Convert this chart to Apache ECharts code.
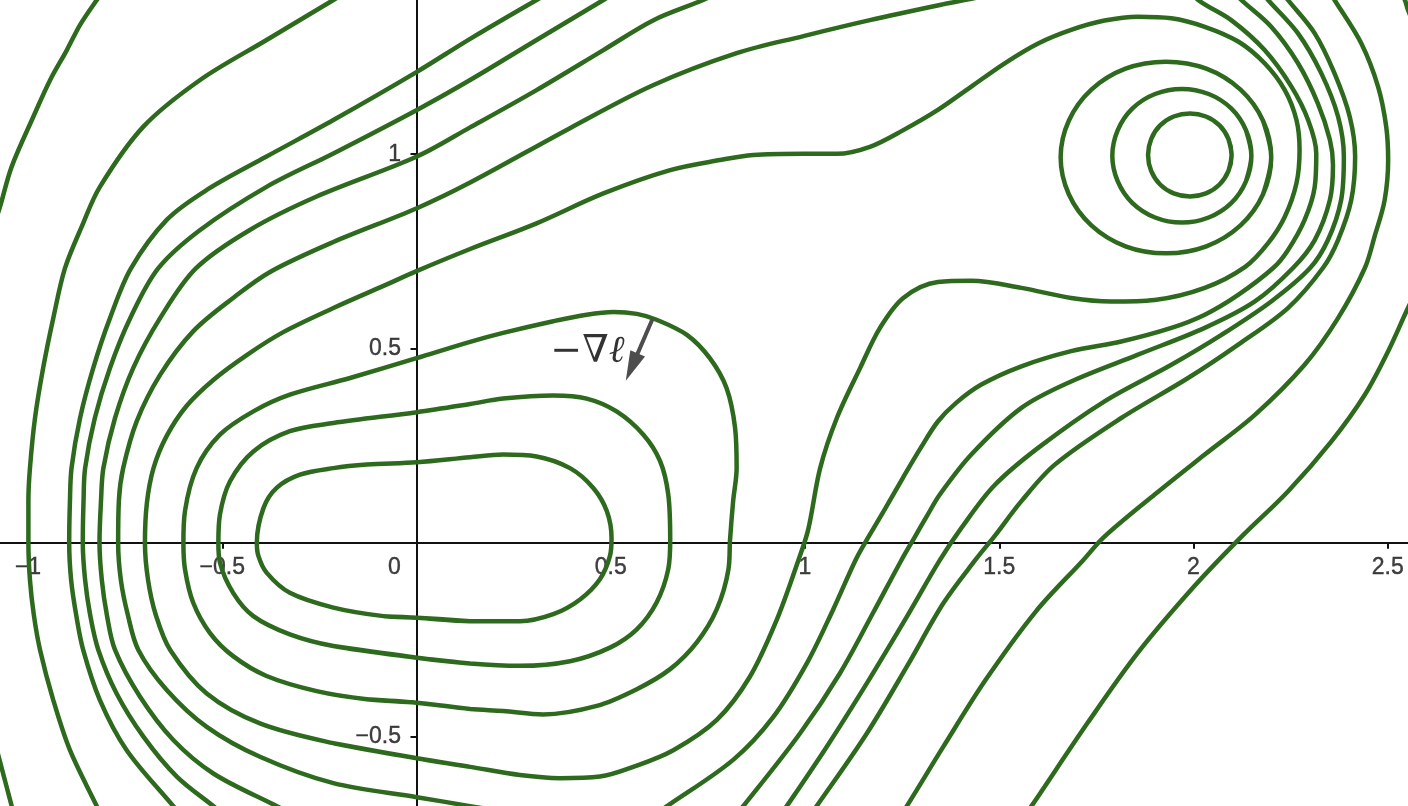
<!DOCTYPE html>
<html>
<head>
<meta charset="utf-8">
<title>Level curves</title>
<script src="https://cdn.jsdelivr.net/npm/echarts@6/dist/echarts.min.js"></script>
<style>
html, body { margin: 0; padding: 0; background: #fff; }
#chart { width: 1408px; height: 806px; }
</style>
</head>
<body>
<div id="chart"></div>
<script>
// tick labels
var xTicks = [-1, -0.5, 0, 0.5, 1, 1.5, 2, 2.5];
var yTicks = [-0.5, 0.5, 1];

// closed curves round the left minimum, inner to outer
var loop1 = [[0.001,-0.193],[0.138,-0.202],[0.266,-0.202],[0.352,-0.184],[0.421,-0.146],[0.472,-0.094],[0.498,-0.034],[0.502,0.012],[0.490,0.081],[0.455,0.141],[0.395,0.192],[0.309,0.222],[0.223,0.227],[0.138,0.220],[0.001,0.207],[-0.128,0.201],[-0.214,0.192],[-0.300,0.175],[-0.360,0.141],[-0.394,0.089],[-0.411,0.0],[-0.407,-0.034],[-0.386,-0.077],[-0.326,-0.129],[-0.214,-0.167],[-0.085,-0.189]];
var loop2 = [[0.001,-0.296],[0.138,-0.311],[0.266,-0.317],[0.395,-0.305],[0.498,-0.270],[0.567,-0.223],[0.618,-0.154],[0.648,-0.068],[0.653,0.007],[0.648,0.124],[0.627,0.210],[0.584,0.278],[0.515,0.338],[0.438,0.371],[0.352,0.379],[0.223,0.371],[0.138,0.357],[0.001,0.336],[-0.214,0.308],[-0.326,0.287],[-0.420,0.235],[-0.480,0.158],[-0.506,0.072],[-0.510,0.0],[-0.506,-0.051],[-0.472,-0.129],[-0.420,-0.189],[-0.326,-0.236],[-0.214,-0.266]];
var loop3 = [[0.0,-0.412],[0.138,-0.428],[0.223,-0.433],[0.326,-0.442],[0.464,-0.420],[0.567,-0.377],[0.652,-0.326],[0.721,-0.257],[0.773,-0.171],[0.803,-0.068],[0.807,0.007],[0.815,0.107],[0.824,0.192],[0.820,0.295],[0.798,0.398],[0.755,0.475],[0.696,0.535],[0.618,0.574],[0.567,0.589],[0.507,0.594],[0.438,0.587],[0.352,0.570],[0.223,0.540],[0.138,0.517],[0.0,0.475],[-0.171,0.424],[-0.326,0.381],[-0.420,0.338],[-0.506,0.278],[-0.566,0.192],[-0.596,0.081],[-0.600,0.0],[-0.596,-0.068],[-0.575,-0.154],[-0.532,-0.232],[-0.472,-0.292],[-0.386,-0.343],[-0.257,-0.382],[-0.128,-0.403]];

// closed curves round the right minimum
var ring1 = [[2.098,0.998],[2.090,1.039],[2.067,1.074],[2.032,1.097],[1.991,1.105],[1.949,1.097],[1.914,1.074],[1.891,1.039],[1.883,0.998],[1.891,0.957],[1.914,0.922],[1.949,0.899],[1.991,0.891],[2.032,0.899],[2.067,0.922],[2.090,0.957]];
var ring2 = [[2.149,0.996],[2.135,1.062],[2.097,1.118],[2.039,1.155],[1.970,1.168],[1.901,1.155],[1.843,1.118],[1.805,1.062],[1.791,0.996],[1.805,0.930],[1.843,0.874],[1.901,0.837],[1.970,0.824],[2.039,0.837],[2.097,0.874],[2.135,0.930]];
var ring3 = [[2.200,0.992],[2.179,1.086],[2.121,1.166],[2.033,1.220],[1.929,1.238],[1.825,1.220],[1.737,1.166],[1.679,1.086],[1.658,0.992],[1.679,0.897],[1.737,0.817],[1.825,0.763],[1.929,0.745],[2.033,0.763],[2.121,0.817],[2.179,0.897]];

// the level through the saddle, round both minima
var saddle = [[0.001,-0.555],[-0.214,-0.516],[-0.403,-0.465],[-0.540,-0.388],[-0.634,-0.276],[-0.671,-0.186],[-0.691,-0.096],[-0.699,0.0],[-0.694,0.102],[-0.677,0.192],[-0.643,0.275],[-0.592,0.352],[-0.523,0.419],[-0.437,0.483],[-0.343,0.542],[-0.214,0.604],[-0.085,0.661],[0.0,0.699],[0.138,0.756],[0.309,0.822],[0.481,0.899],[0.653,0.959],[0.781,0.985],[0.867,0.998],[0.996,1.001],[1.082,1.001],[1.167,1.019],[1.253,1.062],[1.342,1.114],[1.428,1.174],[1.514,1.234],[1.600,1.285],[1.685,1.320],[1.771,1.344],[1.857,1.354],[1.943,1.350],[2.029,1.328],[2.115,1.290],[2.183,1.234],[2.235,1.165],[2.265,1.088],[2.273,1.011],[2.265,0.925],[2.235,0.839],[2.192,0.771],[2.133,0.710],[2.029,0.656],[1.900,0.625],[1.788,0.621],[1.685,0.630],[1.557,0.656],[1.428,0.674],[1.342,0.671],[1.253,0.630],[1.193,0.553],[1.142,0.450],[1.082,0.321],[1.039,0.192],[1.008,0.033],[0.983,-0.045],[0.927,-0.199],[0.858,-0.345],[0.773,-0.456],[0.661,-0.534],[0.558,-0.577],[0.472,-0.602],[0.369,-0.606],[0.266,-0.598],[0.138,-0.577]];

// outer levels, each cut by the frame into pieces
var level5 = [
  [[1.991,1.428],[2.012,1.397],[2.097,1.345],[2.183,1.268],[2.252,1.174],[2.295,1.088],[2.316,1.002],[2.312,0.916],[2.286,0.831],[2.243,0.753],[2.205,0.707],[2.115,0.638],[2.029,0.587],[1.943,0.553],[1.814,0.518],[1.685,0.493],[1.557,0.454],[1.454,0.407],[1.389,0.360],[1.342,0.312],[1.299,0.246],[1.252,0.167],[1.206,0.087],[1.157,0.004],[1.129,-0.047],[1.072,-0.173],[1.005,-0.310],[0.918,-0.449],[0.815,-0.559],[0.645,-0.678],[0.611,-0.701]],
  [[0.215,-0.691],[0.138,-0.678],[0.001,-0.655],[-0.214,-0.619],[-0.403,-0.551],[-0.540,-0.474],[-0.643,-0.379],[-0.716,-0.276],[-0.743,-0.186],[-0.761,-0.096],[-0.768,0.0],[-0.766,0.110],[-0.755,0.192],[-0.720,0.313],[-0.660,0.432],[-0.575,0.544],[-0.472,0.630],[-0.377,0.697],[-0.214,0.774],[0.001,0.861],[0.138,0.927],[0.395,1.067],[0.610,1.178],[0.824,1.260],[0.996,1.304],[1.167,1.345],[1.347,1.384],[1.437,1.402],[1.476,1.412]]
];
var level6 = [
  [[2.099,1.423],[2.123,1.397],[2.200,1.328],[2.269,1.234],[2.320,1.131],[2.351,1.037],[2.359,0.972],[2.351,0.882],[2.312,0.779],[2.256,0.707],[2.158,0.621],[2.029,0.553],[1.857,0.484],[1.685,0.415],[1.557,0.347],[1.428,0.227],[1.347,0.124],[1.314,0.069],[1.281,0.012],[1.247,-0.047],[1.175,-0.181],[1.090,-0.336],[0.987,-0.491],[0.841,-0.678],[0.820,-0.701]],
  [[-0.315,-0.701],[-0.360,-0.678],[-0.523,-0.594],[-0.626,-0.508],[-0.712,-0.396],[-0.776,-0.276],[-0.797,-0.186],[-0.810,-0.096],[-0.816,0.0],[-0.812,0.110],[-0.806,0.192],[-0.776,0.321],[-0.729,0.450],[-0.660,0.578],[-0.568,0.706],[-0.429,0.805],[-0.257,0.891],[0.001,0.994],[0.138,1.069],[0.309,1.165],[0.481,1.268],[0.610,1.345],[0.738,1.397],[0.781,1.418]]
];
var level7 = [
  [[2.171,1.423],[2.192,1.397],[2.269,1.311],[2.329,1.208],[2.372,1.097],[2.387,0.994],[2.380,0.882],[2.346,0.779],[2.300,0.707],[2.200,0.621],[2.072,0.535],[1.943,0.458],[1.771,0.364],[1.600,0.244],[1.486,0.146],[1.404,0.040],[1.347,-0.045],[1.263,-0.189],[1.159,-0.362],[1.056,-0.525],[0.953,-0.678],[0.936,-0.701]],
  [[-0.495,-0.701],[-0.523,-0.678],[-0.617,-0.602],[-0.703,-0.499],[-0.772,-0.388],[-0.819,-0.276],[-0.840,-0.186],[-0.853,-0.096],[-0.859,0.0],[-0.857,0.110],[-0.853,0.192],[-0.828,0.321],[-0.789,0.450],[-0.737,0.578],[-0.665,0.706],[-0.557,0.805],[-0.386,0.916],[-0.214,1.002],[0.001,1.114],[0.138,1.191],[0.309,1.294],[0.481,1.397],[0.524,1.423]]
];
var level8 = [
  [[2.223,1.423],[2.243,1.397],[2.312,1.311],[2.363,1.208],[2.402,1.097],[2.416,0.994],[2.406,0.882],[2.372,0.779],[2.333,0.707],[2.243,0.604],[2.115,0.510],[1.986,0.424],[1.814,0.321],[1.643,0.201],[1.557,0.107],[1.488,0.017],[1.438,-0.045],[1.356,-0.156],[1.262,-0.319],[1.159,-0.491],[1.030,-0.678],[1.013,-0.701]],
  [[-0.607,-0.701],[-0.626,-0.678],[-0.746,-0.534],[-0.815,-0.405],[-0.858,-0.276],[-0.876,-0.186],[-0.889,-0.096],[-0.894,0.0],[-0.892,0.110],[-0.888,0.192],[-0.866,0.321],[-0.832,0.450],[-0.789,0.578],[-0.735,0.706],[-0.643,0.831],[-0.540,0.908],[-0.386,0.994],[-0.214,1.088],[0.001,1.212],[0.138,1.297],[0.309,1.397],[0.357,1.423]]
];
var level9 = [
  [[2.346,1.423],[2.363,1.397],[2.432,1.285],[2.475,1.174],[2.496,1.071],[2.501,0.985],[2.492,0.882],[2.466,0.788],[2.441,0.707],[2.372,0.578],[2.286,0.458],[2.158,0.329],[2.029,0.227],[1.900,0.124],[1.770,0.015],[1.716,-0.045],[1.595,-0.176],[1.465,-0.353],[1.356,-0.525],[1.262,-0.678],[1.245,-0.701]],
  [[-0.812,-0.701],[-0.823,-0.678],[-0.892,-0.534],[-0.935,-0.405],[-0.969,-0.276],[-0.985,-0.186],[-0.995,-0.096],[-0.999,0.0],[-0.999,0.110],[-0.995,0.192],[-0.982,0.321],[-0.961,0.450],[-0.935,0.578],[-0.905,0.706],[-0.862,0.813],[-0.815,0.916],[-0.703,1.071],[-0.557,1.191],[-0.386,1.294],[-0.214,1.397],[-0.171,1.423]]
];
var level10 = [
  [[-1.085,0.825],[-1.072,0.865],[-1.042,0.968],[-0.986,1.097],[-0.943,1.191],[-0.900,1.268],[-0.866,1.333],[-0.823,1.397],[-0.789,1.443]],
  [[2.526,1.428],[2.544,1.397],[2.552,1.371],[2.568,1.335]],
  [[2.573,0.645],[2.552,0.604],[2.501,0.493],[2.441,0.381],[2.355,0.261],[2.243,0.132],[2.123,0.015],[2.003,-0.111],[1.857,-0.283],[1.728,-0.463],[1.583,-0.678],[1.566,-0.701]],
  [[-1.080,-0.534],[-1.072,-0.564],[-1.042,-0.678],[-1.036,-0.701]]
];

// gradient arrow and its label
var arrowFrom = [0.608, 0.577];
var arrowTo = [0.554, 0.452];
var gradLabelAt = [0.440, 0.491];

var green = '#2d6a1e';
var ink = '#111';
var labelFont = 'Liberation Sans, Arial, Helvetica, sans-serif';

function curve(pts) {
	return {
		type: 'line',
		data: pts,
		showSymbol: false,
		smooth: 0.33,
		silent: true,
		z: 3,
		lineStyle: { color: green, width: 4.5 }
	};
}
// closed: wrap round so the join is smoothed like any other point
function closed(pts) {
	var n = pts.length;
	return curve([pts[n - 1]].concat(pts, [pts[0], pts[1]]));
}

function tickText(v) {
	return String(v).replace('-', '\u2212');
}

var series = [];
[loop1, loop2, loop3, ring1, ring2, ring3, saddle].forEach(function (c) {
	series.push(closed(c));
});
[level5, level6, level7, level8, level9, level10].forEach(function (lvl) {
	lvl.forEach(function (piece) { series.push(curve(piece)); });
});

// arrow for -grad l
series.push({
	type: 'lines',
	coordinateSystem: 'cartesian2d',
	silent: true,
	z: 5,
	symbol: ['none', 'triangle'],
	symbolSize: [1, [16, 30]],
	lineStyle: { color: '#4d4d4d', width: 4, opacity: 1 },
	data: [{ coords: [arrowFrom, arrowTo] }]
});
series.push({
	type: 'scatter',
	silent: true,
	z: 5,
	symbolSize: 1,
	itemStyle: { color: 'rgba(0,0,0,0)' },
	data: [gradLabelAt],
	label: {
		show: true,
		position: 'inside',
		formatter: '{a|\u2212\u2207}{b|\u2113}',
		rich: {
			a: { fontFamily: 'DejaVu Serif', fontSize: 38, color: '#000' },
			b: { fontFamily: 'DejaVu Serif', fontSize: 38, fontStyle: 'italic', color: '#000' }
		}
	}
});

// tick labels, drawn as text at the tick values
var tickLabel = {
	show: true,
	fontSize: 23,
	fontFamily: labelFont,
	color: ink,
	textBorderColor: ink,
	textBorderWidth: 0.4
};
series.push({
	type: 'scatter',
	silent: true,
	z: 1,
	symbolSize: 1,
	itemStyle: { color: 'rgba(0,0,0,0)' },
	data: xTicks.map(function (v) {
		return v === 0 ? { value: [0, 0], label: { offset: [-22, 0] } } : [v, 0];
	}),
	label: Object.assign({}, tickLabel, {
		position: 'bottom',
		distance: 13,
		formatter: function (p) { return tickText(p.value[0]); }
	})
});
series.push({
	type: 'scatter',
	silent: true,
	z: 1,
	symbolSize: 1,
	itemStyle: { color: 'rgba(0,0,0,0)' },
	data: yTicks.map(function (v) { return [0, v]; }),
	label: Object.assign({}, tickLabel, {
		position: 'left',
		distance: 15,
		formatter: function (p) { return tickText(p.value[1]); }
	})
});

var myChart = echarts.init(document.getElementById('chart'));
myChart.setOption({
	animation: false,
	backgroundColor: '#fff',
	grid: { left: 0, right: 0, top: 0, bottom: 0, containLabel: false },
	xAxis: {
		type: 'value',
		min: -1.0721,
		max: 2.5521,
		splitLine: { show: false },
		axisLine: { onZero: true, lineStyle: { color: ink, width: 2 } },
		axisTick: {
			show: true, length: 6,
			customValues: xTicks.filter(function (v) { return v !== 0; }),
			lineStyle: { color: ink, width: 2 }
		},
		axisLabel: { show: false }
	},
	yAxis: {
		type: 'value',
		min: -0.6777,
		max: 1.3969,
		splitLine: { show: false },
		axisLine: { onZero: true, lineStyle: { color: ink, width: 2 } },
		axisTick: { show: true, length: 6, customValues: yTicks, lineStyle: { color: ink, width: 2 } },
		axisLabel: { show: false }
	},
	series: series
});
</script>
</body>
</html>
